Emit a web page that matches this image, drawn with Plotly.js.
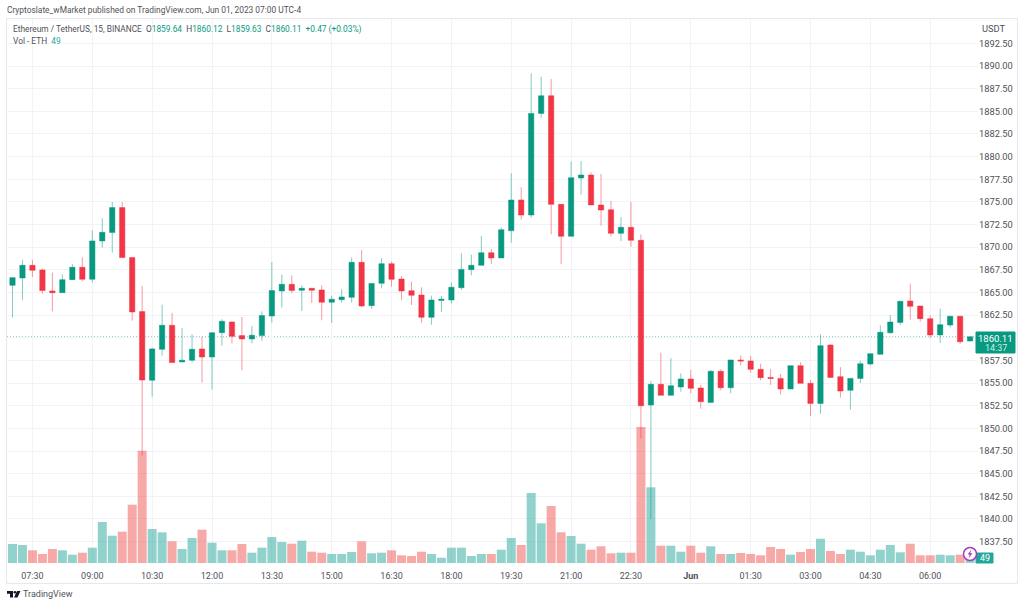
<!DOCTYPE html>
<html>
<head>
<meta charset="utf-8">
<script src="https://cdn.plot.ly/plotly-3.0.1.min.js"></script>
<style>
  html, body { margin: 0; padding: 0; background: #ffffff; }
  #plotArea { width: 1024px; height: 607px; }
</style>
</head>
<body>
<div id="plotArea"></div>
<script>
var times = [
  "2023-05-31 07:00", "2023-05-31 07:15", "2023-05-31 07:30", "2023-05-31 07:45",
  "2023-05-31 08:00", "2023-05-31 08:15", "2023-05-31 08:30", "2023-05-31 08:45",
  "2023-05-31 09:00", "2023-05-31 09:15", "2023-05-31 09:30", "2023-05-31 09:45",
  "2023-05-31 10:00", "2023-05-31 10:15", "2023-05-31 10:30", "2023-05-31 10:45",
  "2023-05-31 11:00", "2023-05-31 11:15", "2023-05-31 11:30", "2023-05-31 11:45",
  "2023-05-31 12:00", "2023-05-31 12:15", "2023-05-31 12:30", "2023-05-31 12:45",
  "2023-05-31 13:00", "2023-05-31 13:15", "2023-05-31 13:30", "2023-05-31 13:45",
  "2023-05-31 14:00", "2023-05-31 14:15", "2023-05-31 14:30", "2023-05-31 14:45",
  "2023-05-31 15:00", "2023-05-31 15:15", "2023-05-31 15:30", "2023-05-31 15:45",
  "2023-05-31 16:00", "2023-05-31 16:15", "2023-05-31 16:30", "2023-05-31 16:45",
  "2023-05-31 17:00", "2023-05-31 17:15", "2023-05-31 17:30", "2023-05-31 17:45",
  "2023-05-31 18:00", "2023-05-31 18:15", "2023-05-31 18:30", "2023-05-31 18:45",
  "2023-05-31 19:00", "2023-05-31 19:15", "2023-05-31 19:30", "2023-05-31 19:45",
  "2023-05-31 20:00", "2023-05-31 20:15", "2023-05-31 20:30", "2023-05-31 20:45",
  "2023-05-31 21:00", "2023-05-31 21:15", "2023-05-31 21:30", "2023-05-31 21:45",
  "2023-05-31 22:00", "2023-05-31 22:15", "2023-05-31 22:30", "2023-05-31 22:45",
  "2023-05-31 23:00", "2023-05-31 23:15", "2023-05-31 23:30", "2023-05-31 23:45",
  "2023-06-01 00:00", "2023-06-01 00:15", "2023-06-01 00:30", "2023-06-01 00:45",
  "2023-06-01 01:00", "2023-06-01 01:15", "2023-06-01 01:30", "2023-06-01 01:45",
  "2023-06-01 02:00", "2023-06-01 02:15", "2023-06-01 02:30", "2023-06-01 02:45",
  "2023-06-01 03:00", "2023-06-01 03:15", "2023-06-01 03:30", "2023-06-01 03:45",
  "2023-06-01 04:00", "2023-06-01 04:15", "2023-06-01 04:30", "2023-06-01 04:45",
  "2023-06-01 05:00", "2023-06-01 05:15", "2023-06-01 05:30", "2023-06-01 05:45",
  "2023-06-01 06:00", "2023-06-01 06:15", "2023-06-01 06:30", "2023-06-01 06:45",
  "2023-06-01 07:00"
];

var opens = [
  1865.79, 1866.60, 1868.00, 1867.49, 1865.17, 1864.98, 1866.42, 1867.78, 1866.46, 1870.69,
  1871.61, 1874.37, 1868.85, 1862.89, 1855.31, 1858.73, 1861.38, 1857.33, 1857.52, 1858.77,
  1857.88, 1860.57, 1861.75, 1860.24, 1859.87, 1860.24, 1862.41, 1865.17, 1865.90, 1865.24,
  1865.46, 1865.28, 1863.92, 1864.21, 1864.47, 1868.33, 1863.55, 1866.01, 1868.18, 1866.49,
  1865.20, 1864.72, 1862.26, 1864.13, 1864.17, 1865.53, 1867.52, 1868.00, 1869.39, 1868.81,
  1871.82, 1875.21, 1873.55, 1884.77, 1886.72, 1874.73, 1871.20, 1877.64, 1877.97, 1874.66,
  1874.14, 1871.53, 1872.19, 1870.76, 1852.58, 1854.86, 1853.65, 1854.57, 1855.45, 1854.46,
  1852.87, 1856.30, 1854.49, 1857.55, 1857.44, 1856.52, 1855.63, 1855.52, 1854.35, 1856.92,
  1854.97, 1852.76, 1859.20, 1855.71, 1854.20, 1855.52, 1857.11, 1858.17, 1860.56, 1861.70,
  1864.06, 1863.51, 1862.11, 1860.31, 1861.41, 1862.37, 1859.64
];
var highs = [
  1866.68, 1868.59, 1868.59, 1867.63, 1867.19, 1867.00, 1868.11, 1868.88, 1871.86, 1873.19,
  1874.99, 1874.99, 1868.88, 1865.72, 1858.91, 1863.66, 1862.74, 1861.08, 1860.39, 1860.13,
  1860.61, 1862.04, 1861.82, 1862.30, 1861.31, 1862.92, 1868.37, 1866.97, 1866.90, 1865.79,
  1865.50, 1865.79, 1864.65, 1865.35, 1868.88, 1869.69, 1866.00, 1868.77, 1868.40, 1866.82,
  1866.20, 1865.57, 1864.65, 1864.61, 1866.12, 1869.32, 1869.17, 1871.23, 1869.80, 1872.19,
  1878.15, 1876.61, 1889.19, 1888.82, 1888.56, 1874.73, 1879.44, 1879.51, 1878.26, 1878.08,
  1875.10, 1873.33, 1874.99, 1871.42, 1855.23, 1858.36, 1857.77, 1856.07, 1856.44, 1854.79,
  1856.44, 1856.52, 1857.55, 1858.03, 1857.99, 1857.14, 1856.55, 1856.00, 1856.96, 1857.29,
  1855.34, 1860.38, 1859.28, 1856.77, 1855.56, 1857.47, 1858.28, 1861.37, 1862.51, 1864.06,
  1865.97, 1863.51, 1862.48, 1863.21, 1862.44, 1862.37, 1860.12
];
var lows = [
  1862.26, 1864.18, 1866.71, 1864.87, 1862.92, 1864.98, 1866.38, 1866.24, 1866.09, 1869.95,
  1869.40, 1868.85, 1861.89, 1847.00, 1853.50, 1858.03, 1857.26, 1857.33, 1857.26, 1855.05,
  1854.28, 1859.13, 1859.36, 1856.41, 1859.39, 1859.65, 1861.67, 1863.33, 1864.91, 1862.96,
  1863.84, 1861.93, 1861.64, 1863.88, 1863.88, 1863.36, 1863.20, 1865.46, 1865.64, 1864.17,
  1863.62, 1861.67, 1861.45, 1862.85, 1863.77, 1865.30, 1866.89, 1868.00, 1868.14, 1868.81,
  1870.50, 1873.04, 1873.26, 1884.29, 1871.42, 1868.14, 1871.20, 1875.80, 1874.66, 1872.37,
  1871.20, 1870.68, 1870.06, 1848.90, 1840.00, 1853.65, 1853.65, 1854.05, 1853.87, 1852.18,
  1852.87, 1854.20, 1853.87, 1856.92, 1856.15, 1855.30, 1854.79, 1853.72, 1854.35, 1854.97,
  1851.40, 1851.62, 1855.63, 1853.39, 1852.06, 1855.01, 1856.92, 1858.17, 1860.45, 1861.41,
  1862.00, 1861.78, 1859.94, 1859.42, 1861.15, 1859.31, 1859.63
];
var closes = [
  1866.64, 1868.00, 1867.45, 1865.21, 1864.98, 1866.42, 1867.78, 1866.46, 1870.69, 1871.64,
  1874.37, 1868.85, 1862.85, 1855.34, 1858.77, 1861.38, 1857.26, 1857.52, 1858.73, 1857.88,
  1860.57, 1861.82, 1860.16, 1859.87, 1860.28, 1862.45, 1865.21, 1865.90, 1865.21, 1865.46,
  1865.24, 1863.92, 1864.25, 1864.50, 1868.33, 1863.51, 1866.00, 1868.18, 1866.45, 1865.17,
  1864.69, 1862.26, 1864.17, 1864.25, 1865.57, 1867.55, 1868.00, 1869.39, 1868.81, 1871.93,
  1875.21, 1873.55, 1884.77, 1886.72, 1874.73, 1871.20, 1877.67, 1877.97, 1874.66, 1874.10,
  1871.53, 1872.19, 1870.76, 1852.50, 1854.86, 1853.65, 1854.71, 1855.45, 1854.42, 1852.95,
  1856.30, 1854.49, 1857.55, 1857.44, 1856.52, 1855.60, 1855.52, 1854.35, 1856.92, 1854.97,
  1852.76, 1859.13, 1855.63, 1854.12, 1855.52, 1857.14, 1858.25, 1860.60, 1861.74, 1864.02,
  1863.47, 1862.11, 1860.31, 1861.45, 1862.37, 1859.57, 1860.11
];
var volumes = [
  190, 180, 127, 90, 140, 127, 83, 103, 153, 410,
  273, 313, 583, 1123, 340, 307, 217, 140, 250, 333,
  203, 127, 127, 190, 103, 153, 260, 210, 193, 223,
  113, 103, 90, 90, 110, 217, 97, 103, 127, 77,
  70, 113, 90, 53, 153, 153, 70, 90, 90, 133,
  250, 180, 700, 397, 570, 307, 270, 193, 133, 167,
  97, 103, 103, 1360, 757, 173, 173, 113, 173, 103,
  167, 90, 90, 100, 90, 77, 160, 140, 83, 110,
  140, 243, 120, 90, 133, 113, 77, 133, 180, 107,
  193, 77, 77, 83, 77, 83, 49
];

var tickTimes = [
  "2023-05-31 07:30", "2023-05-31 09:00", "2023-05-31 10:30", "2023-05-31 12:00",
  "2023-05-31 13:30", "2023-05-31 15:00", "2023-05-31 16:30", "2023-05-31 18:00",
  "2023-05-31 19:30", "2023-05-31 21:00", "2023-05-31 22:30", "2023-06-01 00:00",
  "2023-06-01 01:30", "2023-06-01 03:00", "2023-06-01 04:30", "2023-06-01 06:00"
];
var tickLabels = [
  "07:30", "09:00", "10:30", "12:00", "13:30", "15:00", "16:30", "18:00",
  "19:30", "21:00", "22:30", "<b>Jun</b>", "01:30", "03:00", "04:30", "06:00"
];
// 1860.00 sits behind the last price tag, so it has no label, only a grid line
var priceTicks = [
  1837.5, 1840, 1842.5, 1845, 1847.5, 1850, 1852.5, 1855, 1857.5, 1860, 1862.5, 1865,
  1867.5, 1870, 1872.5, 1875, 1877.5, 1880, 1882.5, 1885, 1887.5, 1890, 1892.5
];
var priceLabels = [
  "1837.50", "1840.00", "1842.50", "1845.00", "1847.50", "1850.00", "1852.50", "1855.00",
  "1857.50", "", "1862.50", "1865.00", "1867.50", "1870.00", "1872.50", "1875.00",
  "1877.50", "1880.00", "1882.50", "1885.00", "1887.50", "1890.00", "1892.50"
];

var green = "#089981";
var red = "#f23645";
var fontName = "Roboto, sans-serif";

// plot box in page pixels
var boxLeft = 7, boxRight = 978, boxTop = 19, boxBottom = 563;

function px(x) {
  return (x - boxLeft) / (boxRight - boxLeft);
}
function py(y) {
  return (boxBottom - y) / (boxBottom - boxTop);
}

function label(x, y, text, size, color, anchor) {
  return {
    xref: "paper", yref: "paper", x: px(x), y: py(y), text: text, showarrow: false,
    xanchor: anchor || "left", yanchor: "middle",
    font: { family: fontName, size: size, color: color },
    borderpad: 0, borderwidth: 0
  };
}

function box(x0, y0, x1, y1, fill, line) {
  return {
    type: "rect", xref: "paper", yref: "paper",
    x0: px(x0), y0: py(y0), x1: px(x1), y1: py(y1),
    fillcolor: fill, line: { color: line || fill, width: 1 }
  };
}

function outline(points, fill, line, width) {
  var d = points.map(function (p, i) {
    return (i === 0 ? "M" : "L") + px(p[0]) + "," + py(p[1]);
  });
  return {
    type: "path", xref: "paper", yref: "paper", path: d.join(" ") + " Z",
    fillcolor: fill, line: { color: line || fill, width: width || 0 }
  };
}

var volumeColors = closes.map(function (c, i) {
  return c >= opens[i] ? "rgba(38,166,154,0.5)" : "rgba(239,83,80,0.5)";
});

var volumeTrace = {
  type: "bar", x: times, y: volumes, yaxis: "y",
  marker: { color: volumeColors, line: { width: 0 } },
  hoverinfo: "skip"
};

var candleTrace = {
  type: "candlestick", x: times, open: opens, high: highs, low: lows, close: closes,
  yaxis: "y2",
  increasing: { line: { color: "rgba(8,153,129,0.5)", width: 1 }, fillcolor: green },
  decreasing: { line: { color: "rgba(242,54,69,0.5)", width: 1 }, fillcolor: red },
  hoverinfo: "skip"
};

var data = [volumeTrace, candleTrace];

var lastPrice = closes[closes.length - 1];
var lastVolume = volumes[volumes.length - 1];
var grey = "#4f5258";
var gap = "\u00a0\u00a0";

var legendRow =
  "Ethereum / TetherUS, 15, BINANCE" + gap + "O<span style='color:#089981'>1859.64</span>" +
  gap + "H<span style='color:#089981'>1860.12</span>" +
  gap + "L<span style='color:#089981'>1859.63</span>" +
  gap + "C<span style='color:#089981'>1860.11</span>" +
  gap + "<span style='color:#089981'>+0.47 (+0.03%)</span>";

var layout = {
  width: 1024,
  height: 607,
  margin: { l: boxLeft, r: 1024 - boxRight, t: boxTop, b: 607 - boxBottom, pad: 0 },
  paper_bgcolor: "#ffffff",
  plot_bgcolor: "#ffffff",
  showlegend: false,
  bargap: 0.1,
  boxgap: 0.24,
  font: { family: fontName, size: 9, color: grey },
  xaxis: {
    type: "date",
    range: ["2023-05-31 06:51:44", "2023-06-01 07:11:52"],
    rangeslider: { visible: false },
    tickmode: "array",
    tickvals: tickTimes,
    ticktext: tickLabels,
    tickangle: 0,
    ticks: "outside",
    ticklen: 4,
    tickcolor: "rgba(0,0,0,0)",
    showgrid: true,
    gridcolor: "#f1f3f8",
    gridwidth: 1,
    zeroline: false,
    showline: false,
    tickfont: { family: fontName, size: 9, color: grey }
  },
  yaxis: {
    range: [0, 5440],
    visible: false,
    showgrid: false,
    zeroline: false
  },
  yaxis2: {
    overlaying: "y",
    side: "right",
    range: [1835.14, 1895.19],
    tickmode: "array",
    tickvals: priceTicks,
    ticktext: priceLabels,
    ticks: "",
    showgrid: true,
    gridcolor: "#f1f3f8",
    gridwidth: 1,
    zeroline: false,
    showline: false,
    tickfont: { family: fontName, size: 9.3, color: grey }
  },
  shapes: [
    box(6.5, 18.5, 1017.5, 583.5, "rgba(0,0,0,0)", "#e6e8ef"),
    {
      type: "line", xref: "paper", yref: "y2", x0: 0, x1: 1, y0: lastPrice, y1: lastPrice,
      line: { color: "rgba(8,153,129,0.6)", width: 1, dash: "1px,2px" }, layer: "below"
    },
    box(976, 332, 1015, 353, green),
    box(976, 553, 993, 563, "#26a69a"),
    // lightning badge next to the volume label
    {
      type: "circle", xref: "paper", yref: "paper",
      x0: px(963.5), y0: py(547.5), x1: px(976.5), y1: py(560.5),
      fillcolor: "#ffffff", line: { color: "#a53bbd", width: 1.5 }
    },
    outline([[971.5, 549.5], [967.5, 554.5], [969.8, 554.5], [968.5, 558.5], [972.5, 553.2], [970.2, 553.2]], "#a53bbd"),
    // TradingView mark
    outline([[7, 591], [13, 591], [13, 597.5], [10, 597.5], [10, 593.8], [7, 593.8]], "#131722"),
    outline([[17, 591], [20.5, 591], [17.5, 597.5], [14, 597.5]], "#131722"),
    {
      type: "circle", xref: "paper", yref: "paper",
      x0: px(13.6), y0: py(591), x1: px(16.2), y1: py(593.6),
      fillcolor: "#131722", line: { width: 0 }
    }
  ],
  annotations: [
    label(7, 10, "Cryptoslate_wMarket published on TradingView.com, Jun 01, 2023 07:00 UTC-4", 8.4, "#50535a"),
    label(13, 29, legendRow, 8.35, grey),
    label(13, 41, "Vol - ETH" + gap + "<span style='color:#26a69a'>49</span>", 8.35, grey),
    label(982, 28, "USDT", 9.3, grey),
    label(995.5, 338, lastPrice.toFixed(2), 9.5, "#ffffff", "center"),
    label(995.5, 348, "14:37", 9, "#d2ede8", "center"),
    label(984.5, 558, String(lastVolume), 9, "#ffffff", "center"),
    label(23, 594, "TradingView", 9, "#50535a")
  ]
};

Plotly.newPlot("plotArea", data, layout, { displayModeBar: false, staticPlot: true });
</script>
</body>
</html>
